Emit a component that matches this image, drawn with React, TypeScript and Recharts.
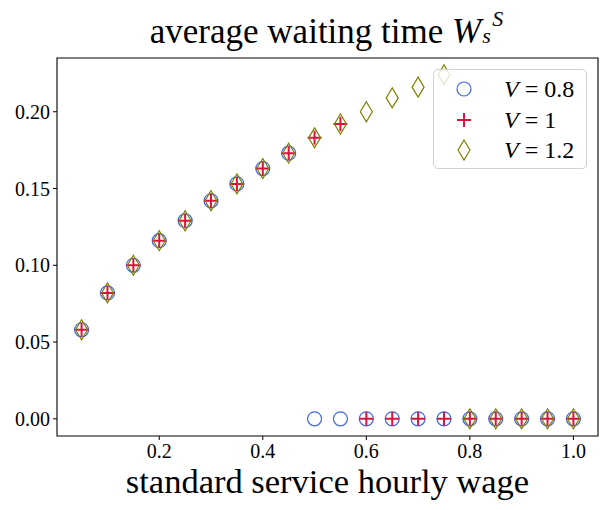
import React from "react"
import { Legend, ReferenceArea, Scatter, ScatterChart, XAxis, YAxis } from "recharts"

// standard service hourly wage (x) and average waiting time for each V
const wages = [0.05, 0.1, 0.15, 0.2, 0.25, 0.3, 0.35, 0.4, 0.45, 0.5, 0.55, 0.6, 0.65, 0.7, 0.75, 0.8, 0.85, 0.9, 0.95, 1.0]
const waitV08 = [0.058, 0.082, 0.100, 0.116, 0.129, 0.142, 0.153, 0.163, 0.173, 0, 0, 0, 0, 0, 0, 0, 0, 0, 0, 0]
const waitV1 = [0.058, 0.082, 0.100, 0.116, 0.129, 0.142, 0.153, 0.163, 0.173, 0.183, 0.192, 0, 0, 0, 0, 0, 0, 0, 0, 0]
const waitV12 = [0.058, 0.082, 0.100, 0.116, 0.129, 0.142, 0.153, 0.163, 0.173, 0.183, 0.192, 0.200, 0.209, 0.216, 0.224, 0, 0, 0, 0, 0]

const xTicks = [0.2, 0.4, 0.6, 0.8, 1.0]
const yTicks = [0, 0.05, 0.1, 0.15, 0.2]
const seriesLabels = ["0.8", "1", "1.2"]

const X_DOMAIN: [number, number] = [0.0025, 1.0475]
const Y_DOMAIN: [number, number] = [-0.0112, 0.235]

const FONT = "'Liberation Serif', 'DejaVu Serif', serif"
const BLUE = "#4169e1"
const RED = "#dc143c"
const OLIVE = "#808000"

const toPoints = (ys: number[]) => wages.map((x, i) => ({ x, y: ys[i] }))

const Circle = ({ cx, cy }: any) => (
  <circle cx={cx} cy={cy} r={7} fill="none" stroke={BLUE} strokeWidth={1.2} />
)
const Plus = ({ cx, cy }: any) => (
  <path d={`M${cx - 7},${cy}H${cx + 7}M${cx},${cy - 7}V${cy + 7}`} stroke={RED} strokeWidth={2} fill="none" />
)
const Diamond = ({ cx, cy }: any) => (
  <path d={`M${cx},${cy - 10}L${cx + 6},${cy}L${cx},${cy + 10}L${cx - 6},${cy}Z`} fill="none" stroke={OLIVE} strokeWidth={1.2} />
)

const markers = [Circle, Plus, Diamond]

function LegendBox() {
  return (
    <div style={{
      position: "relative", width: 154, height: 100, boxSizing: "border-box",
      border: "1px solid #d0d0d0", borderRadius: 5, background: "rgba(255,255,255,0.8)",
      fontFamily: FONT, fontSize: 24, color: "#000",
    }}>
      {seriesLabels.map((lab, i) => {
        const M = markers[i]
        const top = [19, 50, 80][i]
        return (
          <div key={lab} style={{ position: "absolute", left: 0, top: top - 14, height: 28, width: 154 }}>
            <svg width={60} height={28} style={{ position: "absolute", left: 0, top: 0 }}>
              <M cx={30} cy={14} />
            </svg>
            <span style={{ position: "absolute", left: 70, top: 0, lineHeight: "28px", whiteSpace: "nowrap" }}>
              <i>V</i> = {lab}
            </span>
          </div>
        )
      })}
    </div>
  )
}

const tickStyle = { fontFamily: FONT, fontSize: 20, fill: "#000" }

export default function App() {
  return (
    <div style={{ position: "absolute", left: 0, top: 0, width: 608, height: 510, background: "#fff" }}>
      <ScatterChart width={608} height={510} margin={{ top: 58, right: 10, left: 0, bottom: 0 }}>
        <XAxis
          type="number" dataKey="x" domain={X_DOMAIN} allowDataOverflow ticks={xTicks}
          tickFormatter={(v) => v.toFixed(1)} tick={tickStyle}
          tickSize={4} tickMargin={4} axisLine={false} tickLine={{ stroke: "#000" }} height={74}
          label={{ value: "standard service hourly wage", position: "insideBottom", offset: 17, style: { fontFamily: FONT, fontSize: 34.5, fill: "#000" } }}
        />
        <YAxis
          type="number" dataKey="y" domain={Y_DOMAIN} allowDataOverflow ticks={yTicks}
          tickFormatter={(v) => v.toFixed(2)} tick={tickStyle}
          tickSize={4} tickMargin={3} axisLine={false} tickLine={{ stroke: "#000" }} width={57}
        />
        <Scatter data={toPoints(waitV08)} shape={Circle} isAnimationActive={false} />
        <Scatter data={toPoints(waitV1)} shape={Plus} isAnimationActive={false} />
        <Scatter data={toPoints(waitV12)} shape={Diamond} isAnimationActive={false} />
        <ReferenceArea
          x1={X_DOMAIN[0]} x2={X_DOMAIN[1]} y1={Y_DOMAIN[0]} y2={Y_DOMAIN[1]}
          fill="none" fillOpacity={0} stroke="#000" strokeWidth={1.1} ifOverflow="visible"
        />
        <Legend
          layout="horizontal" verticalAlign="middle" align="center"
          content={() => <LegendBox />}
          wrapperStyle={{ position: "absolute", left: 433, top: 69, width: 154, height: 100 }}
        />
      </ScatterChart>
      <div style={{
        position: "absolute", left: 57, width: 541, top: 8, height: 40, textAlign: "center",
        fontFamily: FONT, fontSize: 35, lineHeight: "36px", color: "#000", whiteSpace: "nowrap",
      }}>
        average waiting time <i>W</i>
        <span style={{ display: "inline-block", position: "relative", width: 24, height: "1em" }}>
          <i style={{ position: "absolute", left: 11, top: 3, fontSize: 22, lineHeight: "16px" }}>S</i>
          <i style={{ position: "absolute", left: 1, top: 20, fontSize: 22, lineHeight: "16px" }}>s</i>
        </span>
      </div>
    </div>
  )
}
